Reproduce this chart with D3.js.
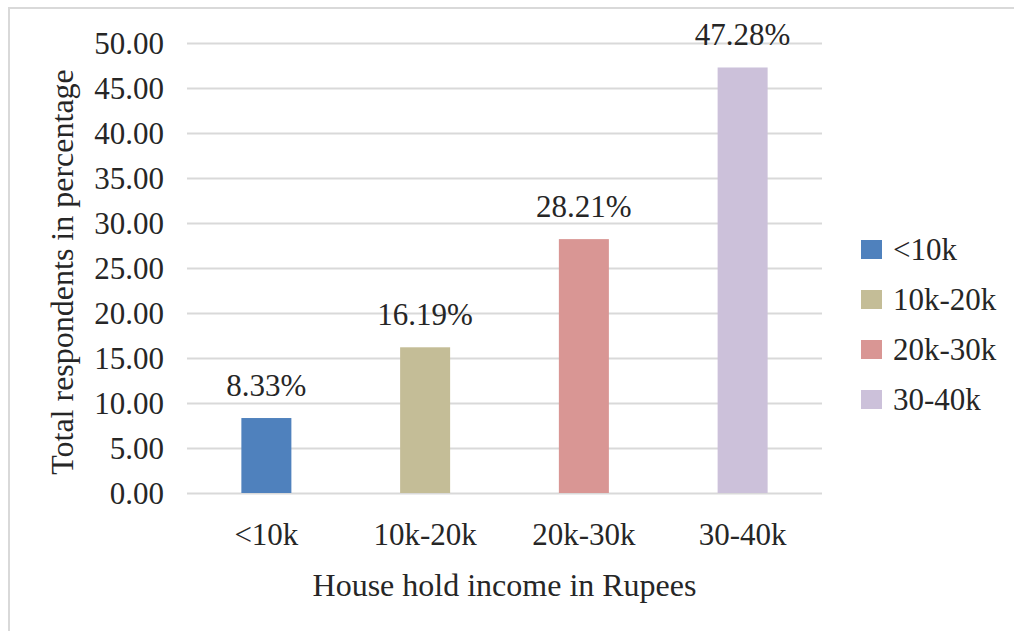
<!DOCTYPE html>
<html>
<head>
<meta charset="utf-8">
<script src="https://cdn.jsdelivr.net/npm/d3@7"></script>
<style>
  html, body { margin: 0; padding: 0; background: #ffffff; }
  svg { display: block; }
  svg text { font-family: "Liberation Serif", "Times New Roman", serif; fill: #262626; }
</style>
</head>
<body>
<svg id="chart" width="1014" height="631"></svg>
<script>
// Household income groups and share of respondents (%)
const categories = ["<10k", "10k-20k", "20k-30k", "30-40k"];
const values = [8.33, 16.19, 28.21, 47.28];
const colors = ["#4f81bd", "#c4bd97", "#d99694", "#ccc1da"];
const yTicks = [0, 5, 10, 15, 20, 25, 30, 35, 40, 45, 50];
const xTitle = "House hold income in Rupees";
const yTitle = "Total respondents in percentage";

const svg = d3.select("#chart");
const serif = "'Liberation Serif', 'Times New Roman', serif";

// chart frame (runs past the right and bottom edges)
svg.append("rect")
  .attr("x", 9).attr("y", 8)
  .attr("width", 1030).attr("height", 660)
  .attr("fill", "#ffffff")
  .attr("stroke", "#d9d9d9")
  .attr("stroke-width", 2);

const plot = { left: 187, right: 822, top: 43, bottom: 493 };

const x = d3.scaleBand()
  .domain(categories)
  .range([plot.left, plot.right])
  .paddingInner(0.685)
  .paddingOuter(0.3425);

const y = d3.scaleLinear()
  .domain([0, 50])
  .range([plot.bottom, plot.top]);

// horizontal gridlines + y labels
const yAxis = d3.axisLeft(y)
  .tickValues(yTicks)
  .tickSize(-(plot.right - plot.left))
  .tickPadding(23)
  .tickFormat(d3.format(".2f"));

const gy = svg.append("g")
  .attr("transform", `translate(${plot.left},0)`)
  .call(yAxis);
gy.select(".domain").remove();
gy.selectAll(".tick line").attr("stroke", "#d9d9d9").attr("stroke-width", 2);
gy.selectAll(".tick text")
  .attr("fill", "#262626")
  .attr("font-size", 31)
  .attr("font-family", serif)
  .attr("dy", "0.33em");

// bars
svg.append("g").selectAll("rect")
  .data(values)
  .join("rect")
  .attr("x", (d, i) => x(categories[i]))
  .attr("y", d => y(d))
  .attr("width", x.bandwidth())
  .attr("height", d => y(0) - y(d))
  .attr("fill", (d, i) => colors[i]);

// value labels
svg.append("g").selectAll("text")
  .data(values)
  .join("text")
  .attr("x", (d, i) => x(categories[i]) + x.bandwidth() / 2)
  .attr("y", d => y(d) - 22)
  .attr("text-anchor", "middle")
  .attr("font-size", 31)
  .attr("font-family", serif)
  .text(d => d.toFixed(2) + "%");

// x axis labels
const xAxis = d3.axisBottom(x).tickSize(0).tickPadding(0);
const gx = svg.append("g")
  .attr("transform", `translate(0,${plot.bottom})`)
  .call(xAxis);
gx.select(".domain").remove();
gx.selectAll(".tick text")
  .attr("fill", "#262626")
  .attr("font-size", 31)
  .attr("font-family", serif)
  .attr("dy", 0)
  .attr("y", 52);

// axis titles
svg.append("text")
  .attr("x", (plot.left + plot.right) / 2)
  .attr("y", 596)
  .attr("text-anchor", "middle")
  .attr("font-size", 32)
  .attr("font-family", serif)
  .text(xTitle);

svg.append("text")
  .attr("transform", "translate(73,272) rotate(-90)")
  .attr("text-anchor", "middle")
  .attr("font-size", 32)
  .attr("font-family", serif)
  .text(yTitle);

// legend
const legend = svg.append("g").attr("transform", "translate(861,0)");
const rows = legend.selectAll("g")
  .data(categories)
  .join("g")
  .attr("transform", (d, i) => `translate(0,${250 + i * 50})`);
rows.append("rect")
  .attr("x", 0).attr("y", -10)
  .attr("width", 21).attr("height", 19)
  .attr("fill", (d, i) => colors[i]);
rows.append("text")
  .attr("x", 32)
  .attr("y", 10)
  .attr("font-size", 31)
  .attr("font-family", serif)
  .text(d => d);
</script>
</body>
</html>
